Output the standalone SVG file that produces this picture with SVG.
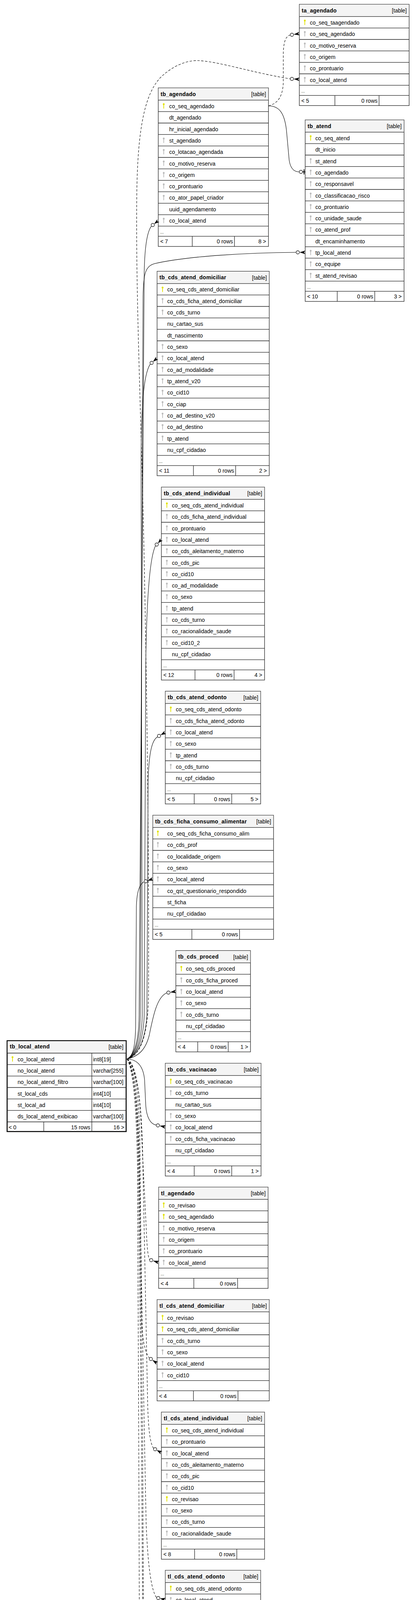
<svg xmlns="http://www.w3.org/2000/svg" xmlns:xlink="http://www.w3.org/1999/xlink" width="1062" height="5053" viewBox="0 0 1062 5053">
<style>
.bx{fill:#fff;stroke:#222;stroke-width:1.3}
.hd{fill:#f4f4f4}
.ln{fill:none;stroke:#222;stroke-width:1.3}
.t{font-family:"Liberation Sans",Arial,sans-serif;font-size:14px;fill:#000}
.h{font-family:"Liberation Sans",Arial,sans-serif;font-size:14px;font-weight:bold;letter-spacing:0.3px;fill:#000}
.dt{font-family:"Liberation Sans",Arial,sans-serif;font-size:11px;fill:#000}
.e{fill:none;stroke:#000;stroke-width:1.1}
.d{stroke-dasharray:6,4}
.o{fill:#fff;stroke:#000;stroke-width:1.2}
.cf{fill:#000}
</style>
<defs>
<g id="kY"><circle cx="0" cy="-4.3" r="2.4" fill="#e2e200"/><rect x="-0.9" y="-3" width="1.8" height="10" fill="#e2e200"/></g>
<g id="kG"><circle cx="0" cy="-4.3" r="2.4" fill="#bbbbbb"/><rect x="-0.9" y="-3" width="1.8" height="10" fill="#bbbbbb"/></g>
</defs>
<rect x="0" y="0" width="1062" height="5053" fill="#fff"/>

<g id="ta_agendado">
<rect class="bx" x="766" y="11" width="281" height="259.3"/>
<rect class="hd" x="766.7" y="11.7" width="279.6" height="30.6"/>
<path class="ln" d="M766,42.3H1047M766,71.6H1047M766,101H1047M766,130.3H1047M766,159.6H1047M766,189H1047M766,218.3H1047M766,244.3H1047M857,244.3V270.3M970,244.3V270.3"/>
<text class="h" x="772" y="31.5">ta_agendado</text>
<text class="t" x="1041" y="32" text-anchor="end">[table]</text>
<use href="#kY" x="780" y="57"/><text class="t" x="793" y="62.8">co_seq_taagendado</text>
<use href="#kG" x="780" y="86.3"/><text class="t" x="793" y="92.1">co_seq_agendado</text>
<use href="#kG" x="780" y="115.7"/><text class="t" x="793" y="121.5">co_motivo_reserva</text>
<use href="#kG" x="780" y="145"/><text class="t" x="793" y="150.8">co_origem</text>
<use href="#kG" x="780" y="174.3"/><text class="t" x="793" y="180.1">co_prontuario</text>
<use href="#kG" x="780" y="203.7"/><text class="t" x="793" y="209.5">co_local_atend</text>
<text class="dt" x="771" y="237.3">...</text>
<text class="t" x="771" y="262.8">&lt; 5</text>
<text class="t" x="966" y="262.8" text-anchor="end">0 rows</text>
</g>

<g id="tb_agendado">
<rect class="bx" x="405" y="225" width="282" height="405.9"/>
<rect class="hd" x="405.7" y="225.7" width="280.6" height="30.6"/>
<path class="ln" d="M405,256.3H687M405,285.6H687M405,315H687M405,344.3H687M405,373.6H687M405,403H687M405,432.3H687M405,461.6H687M405,490.9H687M405,520.3H687M405,549.6H687M405,578.9H687M405,604.9H687M492,604.9V630.9M600,604.9V630.9"/>
<text class="h" x="411" y="245.5">tb_agendado</text>
<text class="t" x="681" y="246" text-anchor="end">[table]</text>
<use href="#kY" x="419" y="271"/><text class="t" x="433" y="276.8">co_seq_agendado</text>
<text class="t" x="433" y="306.1">dt_agendado</text>
<text class="t" x="433" y="335.5">hr_inicial_agendado</text>
<use href="#kG" x="419" y="359"/><text class="t" x="433" y="364.8">st_agendado</text>
<use href="#kG" x="419" y="388.3"/><text class="t" x="433" y="394.1">co_lotacao_agendada</text>
<use href="#kG" x="419" y="417.7"/><text class="t" x="433" y="423.5">co_motivo_reserva</text>
<use href="#kG" x="419" y="447"/><text class="t" x="433" y="452.8">co_origem</text>
<use href="#kG" x="419" y="476.3"/><text class="t" x="433" y="482.1">co_prontuario</text>
<use href="#kG" x="419" y="505.6"/><text class="t" x="433" y="511.4">co_ator_papel_criador</text>
<text class="t" x="433" y="540.8">uuid_agendamento</text>
<use href="#kG" x="419" y="564.3"/><text class="t" x="433" y="570.1">co_local_atend</text>
<text class="dt" x="410" y="597.9">...</text>
<text class="t" x="410" y="623.4">&lt; 7</text>
<text class="t" x="596" y="623.4" text-anchor="end">0 rows</text>
<text class="t" x="681" y="623.4" text-anchor="end">8 &gt;</text>
</g>

<g id="tb_atend">
<rect class="bx" x="781" y="307" width="253" height="464.6"/>
<rect class="hd" x="781.7" y="307.7" width="251.6" height="30.6"/>
<path class="ln" d="M781,338.3H1034M781,367.6H1034M781,397H1034M781,426.3H1034M781,455.6H1034M781,485H1034M781,514.3H1034M781,543.6H1034M781,572.9H1034M781,602.3H1034M781,631.6H1034M781,660.9H1034M781,690.3H1034M781,719.6H1034M781,745.6H1034M863,745.6V771.6M959,745.6V771.6"/>
<text class="h" x="787" y="327.5">tb_atend</text>
<text class="t" x="1028" y="328" text-anchor="end">[table]</text>
<use href="#kY" x="795" y="353"/><text class="t" x="807" y="358.8">co_seq_atend</text>
<text class="t" x="807" y="388.1">dt_inicio</text>
<use href="#kG" x="795" y="411.7"/><text class="t" x="807" y="417.5">st_atend</text>
<use href="#kG" x="795" y="441"/><text class="t" x="807" y="446.8">co_agendado</text>
<use href="#kG" x="795" y="470.3"/><text class="t" x="807" y="476.1">co_responsavel</text>
<use href="#kG" x="795" y="499.7"/><text class="t" x="807" y="505.5">co_classificacao_risco</text>
<use href="#kG" x="795" y="529"/><text class="t" x="807" y="534.8">co_prontuario</text>
<use href="#kG" x="795" y="558.3"/><text class="t" x="807" y="564.1">co_unidade_saude</text>
<use href="#kG" x="795" y="587.6"/><text class="t" x="807" y="593.4">co_atend_prof</text>
<text class="t" x="807" y="622.8">dt_encaminhamento</text>
<use href="#kG" x="795" y="646.3"/><text class="t" x="807" y="652.1">tp_local_atend</text>
<use href="#kG" x="795" y="675.6"/><text class="t" x="807" y="681.4">co_equipe</text>
<use href="#kG" x="795" y="705"/><text class="t" x="807" y="710.8">st_atend_revisao</text>
<text class="dt" x="786" y="738.6">...</text>
<text class="t" x="786" y="764.1">&lt; 10</text>
<text class="t" x="955" y="764.1" text-anchor="end">0 rows</text>
<text class="t" x="1028" y="764.1" text-anchor="end">3 &gt;</text>
</g>

<g id="tb_cds_atend_domiciliar">
<rect class="bx" x="402" y="694.5" width="287" height="523.3"/>
<rect class="hd" x="402.7" y="695.2" width="285.6" height="30.6"/>
<path class="ln" d="M402,725.8H689M402,755.1H689M402,784.5H689M402,813.8H689M402,843.1H689M402,872.5H689M402,901.8H689M402,931.1H689M402,960.4H689M402,989.8H689M402,1019.1H689M402,1048.4H689M402,1077.8H689M402,1107.1H689M402,1136.4H689M402,1165.8H689M402,1191.8H689M495,1191.8V1217.8M603,1191.8V1217.8"/>
<text class="h" x="408" y="715">tb_cds_atend_domiciliar</text>
<text class="t" x="683" y="715.5" text-anchor="end">[table]</text>
<use href="#kY" x="416" y="740.5"/><text class="t" x="428" y="746.3">co_seq_cds_atend_domiciliar</text>
<use href="#kG" x="416" y="769.8"/><text class="t" x="428" y="775.6">co_cds_ficha_atend_domiciliar</text>
<use href="#kG" x="416" y="799.2"/><text class="t" x="428" y="805">co_cds_turno</text>
<text class="t" x="428" y="834.3">nu_cartao_sus</text>
<text class="t" x="428" y="863.6">dt_nascimento</text>
<use href="#kG" x="416" y="887.2"/><text class="t" x="428" y="893">co_sexo</text>
<use href="#kG" x="416" y="916.5"/><text class="t" x="428" y="922.3">co_local_atend</text>
<use href="#kG" x="416" y="945.8"/><text class="t" x="428" y="951.6">co_ad_modalidade</text>
<use href="#kG" x="416" y="975.1"/><text class="t" x="428" y="980.9">tp_atend_v20</text>
<use href="#kG" x="416" y="1004.5"/><text class="t" x="428" y="1010.3">co_cid10</text>
<use href="#kG" x="416" y="1033.8"/><text class="t" x="428" y="1039.6">co_ciap</text>
<use href="#kG" x="416" y="1063.1"/><text class="t" x="428" y="1068.9">co_ad_destino_v20</text>
<use href="#kG" x="416" y="1092.5"/><text class="t" x="428" y="1098.3">co_ad_destino</text>
<use href="#kG" x="416" y="1121.8"/><text class="t" x="428" y="1127.6">tp_atend</text>
<text class="t" x="428" y="1156.9">nu_cpf_cidadao</text>
<text class="dt" x="407" y="1184.8">...</text>
<text class="t" x="407" y="1210.3">&lt; 11</text>
<text class="t" x="599" y="1210.3" text-anchor="end">0 rows</text>
<text class="t" x="683" y="1210.3" text-anchor="end">2 &gt;</text>
</g>

<g id="tb_cds_atend_individual">
<rect class="bx" x="413" y="1247" width="264" height="493.9"/>
<rect class="hd" x="413.7" y="1247.7" width="262.6" height="30.6"/>
<path class="ln" d="M413,1278.3H677M413,1307.6H677M413,1337H677M413,1366.3H677M413,1395.6H677M413,1425H677M413,1454.3H677M413,1483.6H677M413,1512.9H677M413,1542.3H677M413,1571.6H677M413,1600.9H677M413,1630.3H677M413,1659.6H677M413,1688.9H677M413,1714.9H677M499,1714.9V1740.9M599,1714.9V1740.9"/>
<text class="h" x="419" y="1267.5">tb_cds_atend_individual</text>
<text class="t" x="671" y="1268" text-anchor="end">[table]</text>
<use href="#kY" x="427" y="1293"/><text class="t" x="440" y="1298.8">co_seq_cds_atend_individual</text>
<use href="#kG" x="427" y="1322.3"/><text class="t" x="440" y="1328.1">co_cds_ficha_atend_individual</text>
<use href="#kG" x="427" y="1351.7"/><text class="t" x="440" y="1357.5">co_prontuario</text>
<use href="#kG" x="427" y="1381"/><text class="t" x="440" y="1386.8">co_local_atend</text>
<use href="#kG" x="427" y="1410.3"/><text class="t" x="440" y="1416.1">co_cds_aleitamento_materno</text>
<use href="#kG" x="427" y="1439.7"/><text class="t" x="440" y="1445.5">co_cds_pic</text>
<use href="#kG" x="427" y="1469"/><text class="t" x="440" y="1474.8">co_cid10</text>
<use href="#kG" x="427" y="1498.3"/><text class="t" x="440" y="1504.1">co_ad_modalidade</text>
<use href="#kG" x="427" y="1527.6"/><text class="t" x="440" y="1533.4">co_sexo</text>
<use href="#kG" x="427" y="1557"/><text class="t" x="440" y="1562.8">tp_atend</text>
<use href="#kG" x="427" y="1586.3"/><text class="t" x="440" y="1592.1">co_cds_turno</text>
<use href="#kG" x="427" y="1615.6"/><text class="t" x="440" y="1621.4">co_racionalidade_saude</text>
<use href="#kG" x="427" y="1645"/><text class="t" x="440" y="1650.8">co_cid10_2</text>
<text class="t" x="440" y="1680.1">nu_cpf_cidadao</text>
<text class="dt" x="418" y="1707.9">...</text>
<text class="t" x="418" y="1733.4">&lt; 12</text>
<text class="t" x="595" y="1733.4" text-anchor="end">0 rows</text>
<text class="t" x="671" y="1733.4" text-anchor="end">4 &gt;</text>
</g>

<g id="tb_cds_atend_odonto">
<rect class="bx" x="423" y="1769.5" width="244" height="288.6"/>
<rect class="hd" x="423.7" y="1770.2" width="242.6" height="30.6"/>
<path class="ln" d="M423,1800.8H667M423,1830.1H667M423,1859.5H667M423,1888.8H667M423,1918.1H667M423,1947.5H667M423,1976.8H667M423,2006.1H667M423,2032.1H667M497,2032.1V2058.1M593,2032.1V2058.1"/>
<text class="h" x="429" y="1790">tb_cds_atend_odonto</text>
<text class="t" x="661" y="1790.5" text-anchor="end">[table]</text>
<use href="#kY" x="437" y="1815.5"/><text class="t" x="450" y="1821.3">co_seq_cds_atend_odonto</text>
<use href="#kG" x="437" y="1844.8"/><text class="t" x="450" y="1850.6">co_cds_ficha_atend_odonto</text>
<use href="#kG" x="437" y="1874.2"/><text class="t" x="450" y="1880">co_local_atend</text>
<use href="#kG" x="437" y="1903.5"/><text class="t" x="450" y="1909.3">co_sexo</text>
<use href="#kG" x="437" y="1932.8"/><text class="t" x="450" y="1938.6">tp_atend</text>
<use href="#kG" x="437" y="1962.2"/><text class="t" x="450" y="1968">co_cds_turno</text>
<text class="t" x="450" y="1997.3">nu_cpf_cidadao</text>
<text class="dt" x="428" y="2025.1">...</text>
<text class="t" x="428" y="2050.6">&lt; 5</text>
<text class="t" x="589" y="2050.6" text-anchor="end">0 rows</text>
<text class="t" x="661" y="2050.6" text-anchor="end">5 &gt;</text>
</g>

<g id="tb_cds_ficha_consumo_alimentar">
<rect class="bx" x="391" y="2087" width="309" height="317.9"/>
<rect class="hd" x="391.7" y="2087.7" width="307.6" height="30.6"/>
<path class="ln" d="M391,2118.3H700M391,2147.6H700M391,2177H700M391,2206.3H700M391,2235.6H700M391,2265H700M391,2294.3H700M391,2323.6H700M391,2352.9H700M391,2378.9H700M491,2378.9V2404.9M613,2378.9V2404.9"/>
<text class="h" x="397" y="2107.5">tb_cds_ficha_consumo_alimentar</text>
<text class="t" x="694" y="2108" text-anchor="end">[table]</text>
<use href="#kY" x="404" y="2133"/><text class="t" x="428" y="2138.8">co_seq_cds_ficha_consumo_alim</text>
<use href="#kG" x="404" y="2162.3"/><text class="t" x="428" y="2168.1">co_cds_prof</text>
<use href="#kG" x="404" y="2191.7"/><text class="t" x="428" y="2197.5">co_localidade_origem</text>
<use href="#kG" x="404" y="2221"/><text class="t" x="428" y="2226.8">co_sexo</text>
<use href="#kG" x="404" y="2250.3"/><text class="t" x="428" y="2256.1">co_local_atend</text>
<use href="#kG" x="404" y="2279.7"/><text class="t" x="428" y="2285.5">co_qst_questionario_respondido</text>
<text class="t" x="428" y="2314.8">st_ficha</text>
<text class="t" x="428" y="2344.1">nu_cpf_cidadao</text>
<text class="dt" x="396" y="2371.9">...</text>
<text class="t" x="396" y="2397.4">&lt; 5</text>
<text class="t" x="609" y="2397.4" text-anchor="end">0 rows</text>
</g>

<g id="tb_cds_proced">
<rect class="bx" x="450" y="2433.5" width="191" height="259.3"/>
<rect class="hd" x="450.7" y="2434.2" width="189.6" height="30.6"/>
<path class="ln" d="M450,2464.8H641M450,2494.1H641M450,2523.5H641M450,2552.8H641M450,2582.1H641M450,2611.5H641M450,2640.8H641M450,2666.8H641M506,2666.8V2692.8M584,2666.8V2692.8"/>
<text class="h" x="456" y="2454">tb_cds_proced</text>
<text class="t" x="635" y="2454.5" text-anchor="end">[table]</text>
<use href="#kY" x="464" y="2479.5"/><text class="t" x="476" y="2485.3">co_seq_cds_proced</text>
<use href="#kG" x="464" y="2508.8"/><text class="t" x="476" y="2514.6">co_cds_ficha_proced</text>
<use href="#kG" x="464" y="2538.2"/><text class="t" x="476" y="2544">co_local_atend</text>
<use href="#kG" x="464" y="2567.5"/><text class="t" x="476" y="2573.3">co_sexo</text>
<use href="#kG" x="464" y="2596.8"/><text class="t" x="476" y="2602.6">co_cds_turno</text>
<text class="t" x="476" y="2632">nu_cpf_cidadao</text>
<text class="dt" x="455" y="2659.8">...</text>
<text class="t" x="455" y="2685.3">&lt; 4</text>
<text class="t" x="580" y="2685.3" text-anchor="end">0 rows</text>
<text class="t" x="635" y="2685.3" text-anchor="end">1 &gt;</text>
</g>

<g id="tb_local_atend">
<rect x="18.2" y="2664.2" width="304.6" height="232.6" fill="#fff" stroke="#000" stroke-width="2.5"/>
<rect class="hd" x="19.5" y="2665.5" width="302" height="30.5"/>
<path class="ln" d="M18,2696H323M18,2725.3H323M18,2754.7H323M18,2784H323M18,2813.3H323M18,2842.7H323M18,2872H323M235,2696V2898M112,2872V2898"/>
<text class="h" x="25" y="2684">tb_local_atend</text>
<text class="t" x="316" y="2685" text-anchor="end">[table]</text>
<use href="#kY" x="32" y="2710.7"/><text class="t" x="45" y="2716.5">co_local_atend</text><text class="t" x="238" y="2716.5">int8[19]</text>
<text class="t" x="45" y="2745.8">no_local_atend</text><text class="t" x="238" y="2745.8">varchar[255]</text>
<text class="t" x="45" y="2775.2">no_local_atend_filtro</text><text class="t" x="238" y="2775.2">varchar[100]</text>
<text class="t" x="45" y="2804.5">st_local_cds</text><text class="t" x="238" y="2804.5">int4[10]</text>
<text class="t" x="45" y="2833.8">st_local_ad</text><text class="t" x="238" y="2833.8">int4[10]</text>
<text class="t" x="45" y="2863.2">ds_local_atend_exibicao</text><text class="t" x="238" y="2863.2">varchar[100]</text>
<text class="t" x="22" y="2890.5">&lt; 0</text>
<text class="t" x="231" y="2890.5" text-anchor="end">15 rows</text>
<text class="t" x="318" y="2890.5" text-anchor="end">16 &gt;</text>
</g>

<g id="tb_cds_vacinacao">
<rect class="bx" x="423" y="2722" width="245" height="288.6"/>
<rect class="hd" x="423.7" y="2722.7" width="243.6" height="30.6"/>
<path class="ln" d="M423,2753.3H668M423,2782.6H668M423,2812H668M423,2841.3H668M423,2870.6H668M423,2900H668M423,2929.3H668M423,2958.6H668M423,2984.6H668M497,2984.6V3010.6M593,2984.6V3010.6"/>
<text class="h" x="429" y="2742.5">tb_cds_vacinacao</text>
<text class="t" x="662" y="2743" text-anchor="end">[table]</text>
<use href="#kY" x="437" y="2768"/><text class="t" x="449" y="2773.8">co_seq_cds_vacinacao</text>
<use href="#kG" x="437" y="2797.3"/><text class="t" x="449" y="2803.1">co_cds_turno</text>
<text class="t" x="449" y="2832.5">nu_cartao_sus</text>
<use href="#kG" x="437" y="2856"/><text class="t" x="449" y="2861.8">co_sexo</text>
<use href="#kG" x="437" y="2885.3"/><text class="t" x="449" y="2891.1">co_local_atend</text>
<use href="#kG" x="437" y="2914.7"/><text class="t" x="449" y="2920.5">co_cds_ficha_vacinacao</text>
<text class="t" x="449" y="2949.8">nu_cpf_cidadao</text>
<text class="dt" x="428" y="2977.6">...</text>
<text class="t" x="428" y="3003.1">&lt; 4</text>
<text class="t" x="589" y="3003.1" text-anchor="end">0 rows</text>
<text class="t" x="662" y="3003.1" text-anchor="end">1 &gt;</text>
</g>

<g id="tl_agendado">
<rect class="bx" x="406" y="3039" width="280" height="259.3"/>
<rect class="hd" x="406.7" y="3039.7" width="278.6" height="30.6"/>
<path class="ln" d="M406,3070.3H686M406,3099.6H686M406,3129H686M406,3158.3H686M406,3187.6H686M406,3217H686M406,3246.3H686M406,3272.3H686M496,3272.3V3298.3M608,3272.3V3298.3"/>
<text class="h" x="412" y="3059.5">tl_agendado</text>
<text class="t" x="680" y="3060" text-anchor="end">[table]</text>
<use href="#kY" x="419" y="3085"/><text class="t" x="432" y="3090.8">co_revisao</text>
<use href="#kY" x="419" y="3114.3"/><text class="t" x="432" y="3120.1">co_seq_agendado</text>
<use href="#kG" x="419" y="3143.7"/><text class="t" x="432" y="3149.5">co_motivo_reserva</text>
<use href="#kG" x="419" y="3173"/><text class="t" x="432" y="3178.8">co_origem</text>
<use href="#kG" x="419" y="3202.3"/><text class="t" x="432" y="3208.1">co_prontuario</text>
<use href="#kG" x="419" y="3231.7"/><text class="t" x="432" y="3237.5">co_local_atend</text>
<text class="dt" x="411" y="3265.3">...</text>
<text class="t" x="411" y="3290.8">&lt; 4</text>
<text class="t" x="604" y="3290.8" text-anchor="end">0 rows</text>
</g>

<g id="tl_cds_atend_domiciliar">
<rect class="bx" x="402" y="3327" width="287" height="259.3"/>
<rect class="hd" x="402.7" y="3327.7" width="285.6" height="30.6"/>
<path class="ln" d="M402,3358.3H689M402,3387.6H689M402,3417H689M402,3446.3H689M402,3475.6H689M402,3505H689M402,3534.3H689M402,3560.3H689M495,3560.3V3586.3M609,3560.3V3586.3"/>
<text class="h" x="408" y="3347.5">tl_cds_atend_domiciliar</text>
<text class="t" x="683" y="3348" text-anchor="end">[table]</text>
<use href="#kY" x="416" y="3373"/><text class="t" x="428" y="3378.8">co_revisao</text>
<use href="#kY" x="416" y="3402.3"/><text class="t" x="428" y="3408.1">co_seq_cds_atend_domiciliar</text>
<use href="#kG" x="416" y="3431.7"/><text class="t" x="428" y="3437.5">co_cds_turno</text>
<use href="#kG" x="416" y="3461"/><text class="t" x="428" y="3466.8">co_sexo</text>
<use href="#kG" x="416" y="3490.3"/><text class="t" x="428" y="3496.1">co_local_atend</text>
<use href="#kG" x="416" y="3519.7"/><text class="t" x="428" y="3525.5">co_cid10</text>
<text class="dt" x="407" y="3553.3">...</text>
<text class="t" x="407" y="3578.8">&lt; 4</text>
<text class="t" x="605" y="3578.8" text-anchor="end">0 rows</text>
</g>

<g id="tl_cds_atend_individual">
<rect class="bx" x="413" y="3615" width="264" height="376.6"/>
<rect class="hd" x="413.7" y="3615.7" width="262.6" height="30.6"/>
<path class="ln" d="M413,3646.3H677M413,3675.6H677M413,3705H677M413,3734.3H677M413,3763.6H677M413,3793H677M413,3822.3H677M413,3851.6H677M413,3880.9H677M413,3910.3H677M413,3939.6H677M413,3965.6H677M498,3965.6V3991.6M606,3965.6V3991.6"/>
<text class="h" x="419" y="3635.5">tl_cds_atend_individual</text>
<text class="t" x="671" y="3636" text-anchor="end">[table]</text>
<use href="#kY" x="427" y="3661"/><text class="t" x="440" y="3666.8">co_seq_cds_atend_individual</text>
<use href="#kG" x="427" y="3690.3"/><text class="t" x="440" y="3696.1">co_prontuario</text>
<use href="#kG" x="427" y="3719.7"/><text class="t" x="440" y="3725.5">co_local_atend</text>
<use href="#kG" x="427" y="3749"/><text class="t" x="440" y="3754.8">co_cds_aleitamento_materno</text>
<use href="#kG" x="427" y="3778.3"/><text class="t" x="440" y="3784.1">co_cds_pic</text>
<use href="#kG" x="427" y="3807.7"/><text class="t" x="440" y="3813.5">co_cid10</text>
<use href="#kY" x="427" y="3837"/><text class="t" x="440" y="3842.8">co_revisao</text>
<use href="#kG" x="427" y="3866.3"/><text class="t" x="440" y="3872.1">co_sexo</text>
<use href="#kG" x="427" y="3895.6"/><text class="t" x="440" y="3901.4">co_cds_turno</text>
<use href="#kG" x="427" y="3925"/><text class="t" x="440" y="3930.8">co_racionalidade_saude</text>
<text class="dt" x="418" y="3958.6">...</text>
<text class="t" x="418" y="3984.1">&lt; 8</text>
<text class="t" x="602" y="3984.1" text-anchor="end">0 rows</text>
</g>

<g id="tl_cds_atend_odonto">
<rect class="bx" x="423" y="4020" width="244" height="229.9"/>
<rect class="hd" x="423.7" y="4020.7" width="242.6" height="30.6"/>
<path class="ln" d="M423,4051.3H667M423,4080.6H667M423,4110H667M423,4139.3H667M423,4168.6H667M423,4197.9H667M423,4223.9H667M502,4223.9V4249.9M602,4223.9V4249.9"/>
<text class="h" x="429" y="4040.5">tl_cds_atend_odonto</text>
<text class="t" x="661" y="4041" text-anchor="end">[table]</text>
<use href="#kY" x="437" y="4066"/><text class="t" x="450" y="4071.8">co_seq_cds_atend_odonto</text>
<use href="#kG" x="437" y="4095.3"/><text class="t" x="450" y="4101.1">co_local_atend</text>
<use href="#kY" x="437" y="4124.7"/><text class="t" x="450" y="4130.5">co_revisao</text>
<use href="#kG" x="437" y="4154"/><text class="t" x="450" y="4159.8">co_sexo</text>
<use href="#kG" x="437" y="4183.3"/><text class="t" x="450" y="4189.1">co_cds_turno</text>
<text class="dt" x="428" y="4216.9">...</text>
<text class="t" x="428" y="4242.4">&lt; 3</text>
<text class="t" x="598" y="4242.4" text-anchor="end">0 rows</text>
</g>

<g id="tl_cds_ficha_consumo_alimentar">
<rect class="bx" x="393" y="4279" width="305" height="200.6"/>
<rect class="hd" x="393.7" y="4279.7" width="303.6" height="30.6"/>
<path class="ln" d="M393,4310.3H698M393,4339.6H698M393,4369H698M393,4398.3H698M393,4427.6H698M393,4453.6H698M492,4453.6V4479.6M612,4453.6V4479.6"/>
<text class="h" x="399" y="4299.5">tl_cds_ficha_consumo_alimentar</text>
<text class="t" x="692" y="4300" text-anchor="end">[table]</text>
<use href="#kY" x="407" y="4325"/><text class="t" x="428" y="4330.8">co_revisao</text>
<use href="#kY" x="407" y="4354.3"/><text class="t" x="428" y="4360.1">co_seq_cds_ficha_consumo_alim</text>
<use href="#kG" x="407" y="4383.7"/><text class="t" x="428" y="4389.5">co_sexo</text>
<use href="#kG" x="407" y="4413"/><text class="t" x="428" y="4418.8">co_local_atend</text>
<text class="dt" x="398" y="4446.6">...</text>
<text class="t" x="398" y="4472.1">&lt; 2</text>
<text class="t" x="608" y="4472.1" text-anchor="end">0 rows</text>
</g>

<g id="tl_cds_proced">
<rect class="bx" x="450" y="4508" width="191" height="229.9"/>
<rect class="hd" x="450.7" y="4508.7" width="189.6" height="30.6"/>
<path class="ln" d="M450,4539.3H641M450,4568.6H641M450,4598H641M450,4627.3H641M450,4656.6H641M450,4685.9H641M450,4711.9H641M506,4711.9V4737.9M590,4711.9V4737.9"/>
<text class="h" x="456" y="4528.5">tl_cds_proced</text>
<text class="t" x="635" y="4529" text-anchor="end">[table]</text>
<use href="#kG" x="464" y="4554"/><text class="t" x="476" y="4559.8">co_local_atend</text>
<use href="#kY" x="464" y="4583.3"/><text class="t" x="476" y="4589.1">co_seq_cds_proced</text>
<use href="#kY" x="464" y="4612.7"/><text class="t" x="476" y="4618.5">co_revisao</text>
<use href="#kG" x="464" y="4642"/><text class="t" x="476" y="4647.8">co_sexo</text>
<use href="#kG" x="464" y="4671.3"/><text class="t" x="476" y="4677.1">co_cds_turno</text>
<text class="dt" x="455" y="4704.9">...</text>
<text class="t" x="455" y="4730.4">&lt; 3</text>
<text class="t" x="586" y="4730.4" text-anchor="end">0 rows</text>
</g>

<g id="tl_cds_vacinacao">
<rect class="bx" x="423" y="4767" width="245" height="229.9"/>
<rect class="hd" x="423.7" y="4767.7" width="243.6" height="30.6"/>
<path class="ln" d="M423,4798.3H668M423,4827.6H668M423,4857H668M423,4886.3H668M423,4915.6H668M423,4944.9H668M423,4970.9H668M502,4970.9V4996.9M602,4970.9V4996.9"/>
<text class="h" x="429" y="4787.5">tl_cds_vacinacao</text>
<text class="t" x="662" y="4788" text-anchor="end">[table]</text>
<use href="#kY" x="437" y="4813"/><text class="t" x="449" y="4818.8">co_revisao</text>
<use href="#kY" x="437" y="4842.3"/><text class="t" x="449" y="4848.1">co_seq_cds_vacinacao</text>
<use href="#kG" x="437" y="4871.7"/><text class="t" x="449" y="4877.5">co_cds_turno</text>
<use href="#kG" x="437" y="4901"/><text class="t" x="449" y="4906.8">co_sexo</text>
<use href="#kG" x="437" y="4930.3"/><text class="t" x="449" y="4936.1">co_local_atend</text>
<text class="dt" x="428" y="4963.9">...</text>
<text class="t" x="428" y="4989.4">&lt; 3</text>
<text class="t" x="598" y="4989.4" text-anchor="end">0 rows</text>
</g>

<g id="connectors">
<path class="e d" d="M687,271 C712,265 724,245 725,210 L725,135 C726,105 732,92 742.6,89.7"/>
<path class="e d" d="M325,2711 C348,2705 378,2680 380,2550 C382,2100 372,1500 362,1150 C355,900 348,700 350,500 C352,330 370,230 420,190 C450,165 480,155 505,155 C560,157 640,185 742.5,201.8"/>
<path class="e" d="M325,2711 C338,2705 355,2680 356,2600 L369,700 C370,640 375,595 387.5,578.8"/>
<path class="e" d="M687,271 C715,271 728,290 733,333 L740,410 C743,430 752,440 765.5,440"/>
<path class="e" d="M325,2711 C340,2705 358,2680 359,2600 L366,760 C367,700 372,682 395,675 C480,655 640,647 757.5,646"/>
<path class="e" d="M325,2711 C342,2705 362,2680 364,2600 L361,1200 C361,1050 366,960 384.6,931.9"/>
<path class="e" d="M325,2711 C343,2705 366,2680 369,2600 L373,1700 C375,1550 382,1430 397.9,1397.3"/>
<path class="e" d="M325,2711 C345,2705 370,2680 376,2600 L379,2000 C381,1930 388,1895 403.1,1886.2"/>
<path class="e" d="M325,2711 C340,2705 346,2680 347,2630 L349,2320 C350,2285 357,2263 368.7,2257.4"/>
<path class="e" d="M325,2711 C352,2705 372,2690 382,2650 C392,2600 402,2552 426.6,2541.7"/>
<path class="e" d="M325,2711 C352,2712 367,2730 370,2765 L373,2830 C375,2860 385,2878 399.6,2880.1"/>
<path class="e d" d="M325,2711 C345,2720 358,2780 362,2900 L374,3140 C376,3190 378,3215 382.7,3224.6"/>
<path class="e d" d="M325,2711 C344,2722 356,2790 358,2920 L362,3380 C364,3430 372,3465 382.3,3476.5"/>
<path class="e d" d="M325,2711 C346,2725 362,2800 365,2950 L378,3600 C380,3660 384,3695 393.1,3707.8"/>
<path class="e d" d="M325,2711 C343,2728 355,2800 357,3000 L370,3700 L374,3900 C378,4000 386,4070 400.6,4090"/>
<path class="e d" d="M325,2711 C342,2730 352,2820 354,3000 L362,3680 L366,4250 C367,4330 370,4380 376.9,4395.7"/>
<path class="e d" d="M325,2711 C342,2732 354,2830 356,3000 L365,3680 L368,4300 C370,4440 385,4535 426.5,4551.8"/>
<path class="e d" d="M325,2711 C341,2735 350,2840 352,3000 L355,3680 L357,4250 C362,4450 373,4600 376,4700 C380,4800 390,4890 404.5,4915.2"/>

<circle class="o" cx="747" cy="89" r="4.2"/><polygon class="cf" points="766.7,90.4 751.4,88.3 765.3,81.6 763,86.5"/>
<circle class="o" cx="747" cy="202" r="4.2"/><polygon class="cf" points="765.8,207.5 751.5,202.2 766.2,198.5 763,202.8"/>
<circle class="o" cx="391" cy="576" r="4.2"/><polygon class="cf" points="407.8,568.5 394.5,573.2 402.2,561.5 402.6,566.9"/>
<circle class="o" cx="770" cy="440" r="4.2"/><path d="M774.2,440H781M778,433.5V446.5" stroke="#000" stroke-width="2"/>
<circle class="o" cx="762" cy="646" r="4.2"/><polygon class="cf" points="781,650.5 766.5,646 781,641.5 778,646"/>
<circle class="o" cx="388" cy="929" r="4.2"/><polygon class="cf" points="404.9,920.4 391.4,926.1 399.1,913.6 399.7,919"/>
<circle class="o" cx="401" cy="1394" r="4.2"/><polygon class="cf" points="416.3,1384.1 404.1,1390.7 409.7,1377.9 411,1383.2"/>
<circle class="o" cx="407" cy="1884" r="4.2"/><polygon class="cf" points="425.2,1878.9 410.9,1881.8 420.8,1871.1 420.4,1876.5"/>
<circle class="o" cx="373" cy="2256" r="4.2"/><polygon class="cf" points="392.4,2254.3 377.3,2254.6 389.6,2245.7 388.2,2250.9"/>
<circle class="o" cx="431" cy="2541" r="4.2"/><polygon class="cf" points="450.7,2542.4 435.4,2540.3 449.3,2533.6 447,2538.5"/>
<circle class="o" cx="404" cy="2881" r="4.2"/><polygon class="cf" points="422.1,2889.4 408.4,2881.9 423.9,2880.6 420.1,2884.4"/>
<circle class="o" cx="387" cy="3226" r="4.2"/><polygon class="cf" points="404.6,3236.3 391.3,3227.4 407.4,3227.7 403.1,3231.1"/>
<circle class="o" cx="386" cy="3479" r="4.2"/><polygon class="cf" points="399.5,3493.7 389.7,3481.5 404.5,3486.3 399.5,3488.3"/>
<circle class="o" cx="397" cy="3710" r="4.2"/><polygon class="cf" points="410.8,3722.9 400.9,3712.2 415.2,3715.1 410.4,3717.5"/>
<circle class="o" cx="405" cy="4091" r="4.2"/><polygon class="cf" points="422,4099.4 409.4,4092 424,4090.6 420.1,4094.3"/>
<circle class="o" cx="380" cy="4399" r="4.2"/><polygon class="cf" points="389.7,4416.1 383.1,4402.3 396.3,4409.9 391,4410.8"/>
<circle class="o" cx="431" cy="4552" r="4.2"/><polygon class="cf" points="449.8,4557.5 435.5,4552.2 450.2,4548.5 447,4552.8"/>
<circle class="o" cx="408" cy="4918" r="4.2"/><polygon class="cf" points="420.2,4933.5 411.5,4920.8 425.8,4926.5 420.7,4928.1"/>
</g>

<text x="17" y="5038" font-family="'Liberation Sans',Arial,sans-serif" font-size="14" fill="#333">Generated by SchemaSpy</text>
</svg>
